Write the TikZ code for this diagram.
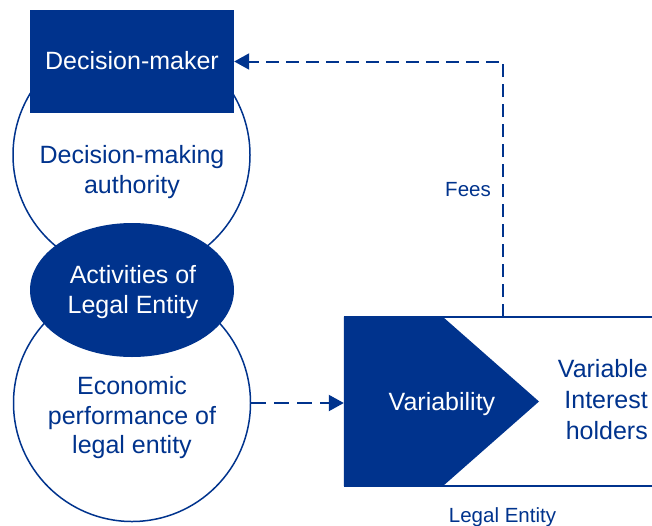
\documentclass[tikz,border=0pt]{standalone}
\usepackage{fontspec}
\setmainfont{Liberation Sans}
\usetikzlibrary{arrows.meta,shapes.geometric}
\definecolor{kblue}{HTML}{00338D}
\begin{document}
\begin{tikzpicture}[x=1pt,y=-1pt,
  bigtxt/.style={font=\fontsize{25}{30}\selectfont},
  smalltxt/.style={font=\fontsize{20.5}{24}\selectfont, text=kblue},
  ring/.style={circle, draw=kblue, line width=1.5pt, fill=white, minimum size=237pt, inner sep=0pt},
  dasharrow/.style={draw=kblue, line width=2pt, dash pattern=on 13pt off 7pt, -{Triangle[length=15pt,width=16pt]}},
  frameline/.style={draw=kblue, line width=1.5pt},
]
\useasboundingbox (0,0) rectangle (652,525);
\fill[white] (0,0) rectangle (652,525);
% circles
\node[ring] (auth) at (131.5,155) {};
\node[ring] (econ) at (132,403) {};
% decision-maker box
\node[fill=kblue, minimum width=204pt, minimum height=103pt, inner sep=0pt] (dm) at (132,61.5) {};
\node[bigtxt, text=white, anchor=base] (dmtext) at (132,69) {Decision-maker};
% ellipse
\node[ellipse, fill=kblue, minimum width=204pt, minimum height=134pt, inner sep=0pt] (act) at (132,290) {};
\node[bigtxt, text=white, align=center, inner sep=0pt] (acttext) at (133,291.6) {Activities of\\Legal Entity};
% circle texts
\node[bigtxt, text=kblue, align=center, inner sep=0pt] (authtext) at (132,171.6) {Decision-making\\authority};
\node[bigtxt, text=kblue, align=center, inner sep=0pt, font=\fontsize{25}{29.5}\selectfont] (econtext) at (132,418) {Economic\\performance of\\legal entity};
% legal entity box
\node[minimum width=308pt, minimum height=169pt, inner sep=0pt] (le) at (498,401.5) {};
\fill[kblue] (le.north west) -- (443,317) -- (539,401.5) -- (443,486) -- (le.south west) -- cycle;
\draw[frameline] (le.north west) -- (le.north east);
\draw[frameline] (le.south west) -- (le.south east);
\node[bigtxt, text=white, anchor=base] (vartext) at (442,410) {Variability};
\node[bigtxt, text=kblue, align=right, anchor=east, inner sep=0pt, font=\fontsize{25}{31}\selectfont] (vih) at (648,400) {Variable\\Interest\\holders};
\node[smalltxt, anchor=base] (letext) at (502.5,522) {Legal Entity};
% connectors
\coordinate (feesfoot) at (503,317);
\draw[dasharrow] (feesfoot) |- (dm.east);
\node[smalltxt, anchor=base east, inner sep=0pt] (fees) at (491,196) {Fees};
\draw[dasharrow, dash pattern=on 15pt off 8pt] (econ.east) -- (econ.east -| le.west);
\end{tikzpicture}
\end{document}
